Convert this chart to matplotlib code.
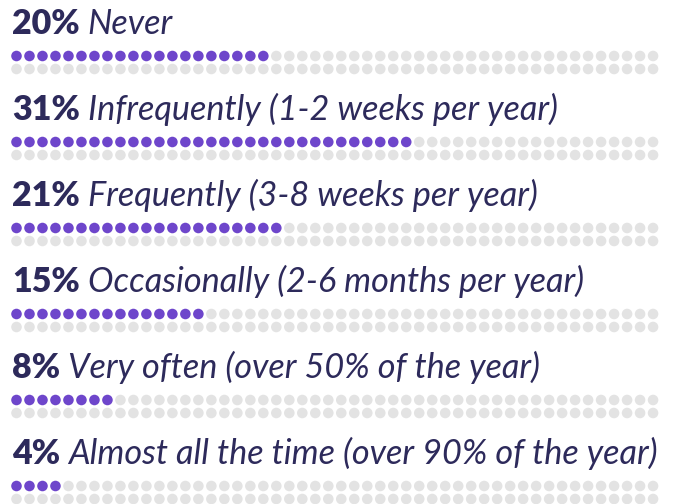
import matplotlib.pyplot as plt

# data
percents = [20, 31, 21, 15, 8, 4]
labels = ["Never",
          "Infrequently (1-2 weeks per year)",
          "Frequently (3-8 weeks per year)",
          "Occasionally (2-6 months per year)",
          "Very often (over 50% of the year)",
          "Almost all the time (over 90% of the year)"]

PURPLE = '#6e46cb'
GRAY = '#e3e3e3'
TEXT = '#2d2a5b'
n_cols = 50
block_h = 86     # px between blocks
row_h = 13       # px between the two dot rows

fig = plt.figure(figsize=(6.78, 5.04), dpi=100)
ax = fig.add_axes([0, 0, 1, 1])
ax.set_xlim(-1.27, 50.92)
ax.set_ylim(504, 0)
ax.axis('off')

fig.canvas.draw()
renderer = fig.canvas.get_renderer()

for b, (pct, lab) in enumerate(zip(percents, labels)):
    y0 = 56 + b * block_h
    for r in range(2):
        xs = list(range(n_cols))
        cols = [PURPLE if (r * n_cols + i) < pct else GRAY for i in xs]
        ax.scatter(xs, [y0 + r * row_h] * n_cols, s=58, c=cols, linewidths=0)

    ty = 34 + b * block_h
    t1 = ax.text(-0.35, ty, f"{pct}%", fontsize=24.5, fontweight='heavy',
                 family='Lato', color=TEXT, va='baseline', ha='left')
    bb = t1.get_window_extent(renderer)
    x_px = bb.x1 + 8
    x_data = ax.transData.inverted().transform((x_px, 0))[0]
    ax.text(x_data, ty, lab, fontsize=24.7, style='italic', family='Lato',
            color=TEXT, va='baseline', ha='left')

fig.savefig('out.png', dpi=100)
